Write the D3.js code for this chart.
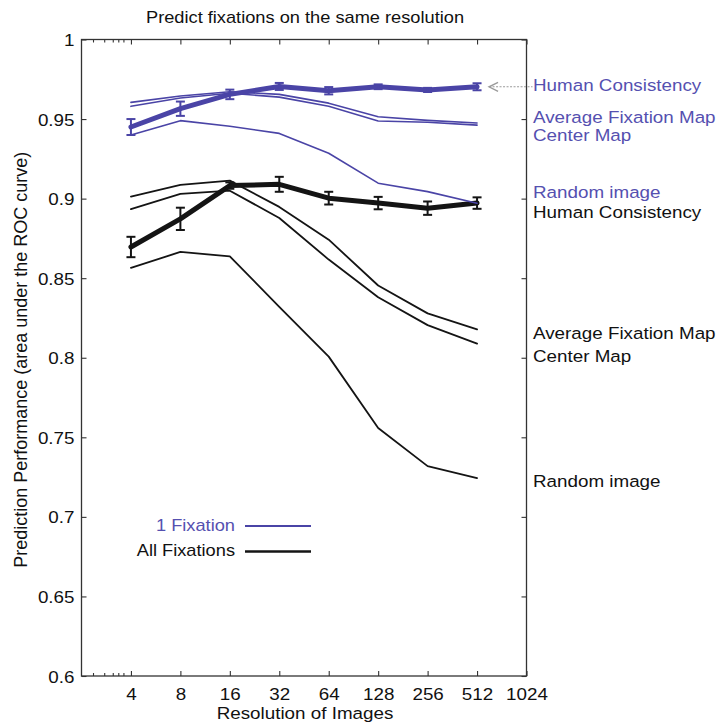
<!DOCTYPE html>
<html>
<head>
<meta charset="utf-8">
<script src="https://cdn.jsdelivr.net/npm/d3@7"></script>
<style>
  html, body { margin: 0; padding: 0; background: #fff; }
  svg { display: block; }
  text { font-family: "Liberation Sans", Arial, Helvetica, sans-serif; }
</style>
</head>
<body>
<svg id="chart" width="717" height="727"></svg>
<script>
// Image resolutions (pixels) at which predictions were evaluated
const resolutions = [4, 8, 16, 32, 64, 128, 256, 512];
const xTickValues = [4, 8, 16, 32, 64, 128, 256, 512, 1024];
const xMinorTicks = [2.35, 2.75, 3.1, 3.35, 3.6];
const yTickValues = [0.6, 0.65, 0.7, 0.75, 0.8, 0.85, 0.9, 0.95, 1];

// 1 fixation (blue)
const oneHuman      = [0.9450, 0.9565, 0.9655, 0.9705, 0.9678, 0.9703, 0.9683, 0.9703];
const oneHumanErr   = [0.0050, 0.0045, 0.0030, 0.0022, 0.0023, 0.0015, 0.0013, 0.0022];
const oneAvgMap     = [0.9605, 0.9645, 0.9672, 0.9655, 0.9600, 0.9515, 0.9492, 0.9475];
const oneCenterMap  = [0.9580, 0.9632, 0.9662, 0.9638, 0.9580, 0.9488, 0.9480, 0.9462];
const oneRandom     = [0.9400, 0.9490, 0.9455, 0.9410, 0.9285, 0.9097, 0.9044, 0.8971];

// All fixations (black)
const allHuman      = [0.8696, 0.8873, 0.9082, 0.9090, 0.9003, 0.8972, 0.8940, 0.8972];
const allHumanErr   = [0.0064, 0.0070, 0.0020, 0.0047, 0.0040, 0.0039, 0.0042, 0.0036];
const allAvgMap     = [0.9013, 0.9086, 0.9113, 0.8948, 0.8742, 0.8454, 0.8279, 0.8178];
const allCenterMap  = [0.8934, 0.9030, 0.9050, 0.8878, 0.8617, 0.8380, 0.8205, 0.8089];
const allRandom     = [0.8565, 0.8665, 0.8637, 0.8320, 0.8007, 0.7559, 0.7319, 0.7244];

// Series labels listed to the right of the plot, anchored on the performance axis
const labelTexts  = ["Human Consistency", "Average Fixation Map", "Center Map", "Random image",
                     "Human Consistency", "Average Fixation Map", "Center Map", "Random image"];
const labelValues = [0.9676, 0.9473, 0.9362, 0.9004, 0.8878, 0.8118, 0.7973, 0.7187];
const labelGroups = ["one", "one", "one", "one", "all", "all", "all", "all"];

const legendTexts = ["1 Fixation", "All Fixations"];

const BLUE = "#4a44a6";
const BLUE_TEXT = "#5550b0";
const BLACK = "#141414";
const AXIS = "#333";
const SX = 1.14;   // horizontal stretch of the lettering

const svg = d3.select("#chart");

const x = d3.scaleLog().base(2).domain([2, 1024]).range([81.5, 526.5]);
const y = d3.scaleLinear().domain([0.6, 1]).range([676, 39.5]);

const fmtY = v => String(+v.toFixed(2));

// Stretch a text element horizontally around its own anchor point
function stretch(sel) {
  sel.each(function () {
    const t = d3.select(this);
    const tx = +t.attr("x") || 0;
    const ty = +t.attr("y") || 0;
    t.attr("x", 0).attr("y", 0)
     .attr("transform", `translate(${tx},${ty}) scale(${SX},1)`);
  });
}

// ---- axes ----
const gBottom = svg.append("g").attr("transform", `translate(0,${y.range()[0]})`)
  .call(d3.axisBottom(x).tickValues(xTickValues).tickFormat(d => d)
        .tickSizeInner(-5).tickSizeOuter(0).tickPadding(12));
const gBottomMinor = svg.append("g").attr("transform", `translate(0,${y.range()[0]})`)
  .call(d3.axisBottom(x).tickValues(xMinorTicks).tickFormat("")
        .tickSizeInner(-3).tickSizeOuter(0));
const gTop = svg.append("g").attr("transform", `translate(0,${y.range()[1]})`)
  .call(d3.axisTop(x).tickValues(xTickValues).tickFormat("")
        .tickSizeInner(-5).tickSizeOuter(0));
const gTopMinor = svg.append("g").attr("transform", `translate(0,${y.range()[1]})`)
  .call(d3.axisTop(x).tickValues(xMinorTicks).tickFormat("")
        .tickSizeInner(-3).tickSizeOuter(0));
const gLeft = svg.append("g").attr("transform", `translate(${x.range()[0]},0)`)
  .call(d3.axisLeft(y).tickValues(yTickValues).tickFormat(fmtY)
        .tickSizeInner(-5).tickSizeOuter(0).tickPadding(7));
const gRight = svg.append("g").attr("transform", `translate(${x.range()[1]},0)`)
  .call(d3.axisRight(y).tickValues(yTickValues).tickFormat("")
        .tickSizeInner(-5).tickSizeOuter(0));

[gBottom, gBottomMinor, gTop, gTopMinor, gLeft, gRight].forEach(g => {
  g.select(".domain").remove();
  g.selectAll(".tick line").attr("stroke", AXIS).attr("stroke-width", 1.1);
  g.selectAll(".tick text").attr("fill", "#111").attr("font-size", 16.5)
   .attr("font-family", "'Liberation Sans', Arial, sans-serif");
});
gBottom.selectAll(".tick text").attr("dy", null).attr("y", 23.5).call(stretch);
gLeft.selectAll(".tick text").attr("dy", null).attr("y", 6).call(stretch);

// plot frame
svg.append("rect")
  .attr("x", x.range()[0]).attr("y", y.range()[1])
  .attr("width", x.range()[1] - x.range()[0])
  .attr("height", y.range()[0] - y.range()[1])
  .attr("fill", "none").attr("stroke", AXIS).attr("stroke-width", 1.3);

// ---- series ----
const line = d3.line().x((d, i) => x(resolutions[i])).y(d => y(d));

function drawLine(values, color, width) {
  svg.append("path").datum(values)
    .attr("d", line).attr("fill", "none")
    .attr("stroke", color).attr("stroke-width", width)
    .attr("stroke-linejoin", "round").attr("stroke-linecap", "round");
}

function drawErrors(values, errs, color) {
  const g = svg.append("g").attr("stroke", color).attr("stroke-width", 2).attr("fill", "none");
  values.forEach((v, i) => {
    const cx = x(resolutions[i]);
    const y0 = y(v - errs[i]), y1 = y(v + errs[i]);
    g.append("line").attr("x1", cx).attr("x2", cx).attr("y1", y0).attr("y2", y1);
    g.append("line").attr("x1", cx - 4.5).attr("x2", cx + 4.5).attr("y1", y0).attr("y2", y0);
    g.append("line").attr("x1", cx - 4.5).attr("x2", cx + 4.5).attr("y1", y1).attr("y2", y1);
  });
}

drawLine(allRandom, BLACK, 1.8);
drawLine(allCenterMap, BLACK, 1.8);
drawLine(allAvgMap, BLACK, 1.8);
drawLine(allHuman, BLACK, 5);
drawErrors(allHuman, allHumanErr, BLACK);

drawLine(oneRandom, BLUE, 1.6);
drawLine(oneCenterMap, BLUE, 1.6);
drawLine(oneAvgMap, BLUE, 1.6);
drawLine(oneHuman, BLUE, 5);
drawErrors(oneHuman, oneHumanErr, BLUE);

// ---- pointer from the label to the 1-fixation human consistency curve ----
const arrowY = y(oneHuman[oneHuman.length - 1]);
const arrowTip = x(resolutions[resolutions.length - 1]) + 12;
svg.append("line")
  .attr("x1", arrowTip).attr("x2", x.range()[1] + 6)
  .attr("y1", arrowY).attr("y2", arrowY)
  .attr("stroke", "#9a9a9a").attr("stroke-width", 1.2).attr("stroke-dasharray", "2,1.5");
svg.append("path")
  .attr("d", `M${arrowTip + 9},${arrowY - 4.5} L${arrowTip},${arrowY} L${arrowTip + 9},${arrowY + 4.5}`)
  .attr("fill", "none").attr("stroke", "#9a9a9a").attr("stroke-width", 1.4);

// ---- right-hand series labels ----
svg.append("g").selectAll("text").data(labelTexts).join("text")
  .attr("x", 533)
  .attr("y", (d, i) => y(labelValues[i]))
  .attr("font-size", 16.5)
  .attr("fill", (d, i) => labelGroups[i] === "one" ? BLUE_TEXT : "#111")
  .text(d => d)
  .call(stretch);

// ---- legend ----
const legendColors = [BLUE, BLACK];
const legendText = ["#5550b0", "#111"];
const legend = svg.append("g");
legendTexts.forEach((t, i) => {
  const ly = 526 + i * 25.5;
  legend.append("text")
    .attr("x", 235).attr("y", ly + 4.5)
    .attr("text-anchor", "end").attr("font-size", 16)
    .attr("fill", legendText[i]).text(t).call(stretch);
  legend.append("line")
    .attr("x1", 245).attr("x2", 311).attr("y1", ly).attr("y2", ly)
    .attr("stroke", legendColors[i]).attr("stroke-width", i === 0 ? 1.8 : 2.4);
});

// ---- titles ----
svg.append("text")
  .attr("x", 305).attr("y", 23)
  .attr("text-anchor", "middle").attr("font-size", 16)
  .attr("fill", "#111")
  .text("Predict fixations on the same resolution")
  .call(stretch);

svg.append("text")
  .attr("x", 305).attr("y", 719)
  .attr("text-anchor", "middle").attr("font-size", 16.5)
  .attr("fill", "#111")
  .text("Resolution of Images")
  .call(stretch);

svg.append("text")
  .attr("transform", `translate(27,${(y.range()[0] + y.range()[1]) / 2 + 2}) rotate(-90)`)
  .attr("text-anchor", "middle").attr("font-size", 18)
  .attr("fill", "#111")
  .text("Prediction Performance (area under the ROC curve)");
</script>
</body>
</html>
